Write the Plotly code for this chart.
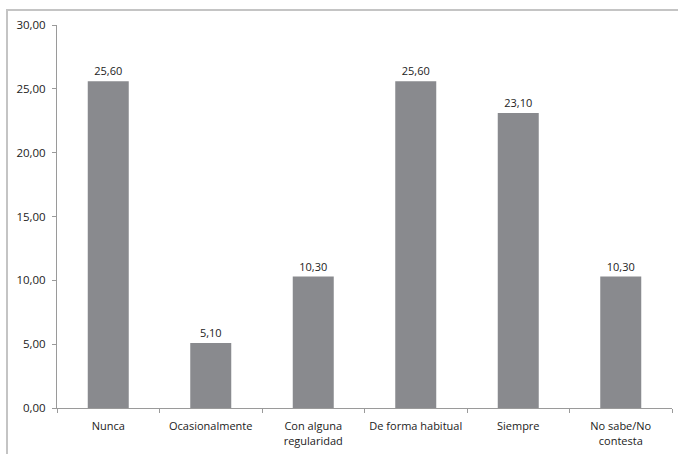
import plotly.graph_objects as go

categories = ["Nunca", "Ocasionalmente", "Con alguna<br>regularidad",
              "De forma habitual", "Siempre", "No sabe/No<br>contesta"]
values = [25.60, 5.10, 10.30, 25.60, 23.10, 10.30]
y_ticks = [0, 5, 10, 15, 20, 25, 30]

W, H = 678, 454
ml, mr, mt, mb = 57, 6, 25, 44
pw, ph = W - ml - mr, H - mt - mb

fig = go.Figure(go.Bar(
    x=categories,
    y=values,
    width=0.4,
    marker=dict(color="#898a8e", line=dict(width=0)),
    texttemplate="%{y:.2f}",
    textposition="outside",
    textfont=dict(size=11, color="#222222"),
    cliponaxis=False,
    hoverinfo="skip",
))

# frame around the chart area (only top and left edges fall inside the page)
frame = dict(
    type="rect", xref="paper", yref="paper",
    x0=(7 - ml) / pw, x1=(W + 10 - ml) / pw,
    y0=(H - mb - (H + 10)) / ph, y1=(H - mb - 10) / ph,
    line=dict(color="#c4c4c4", width=2),
    fillcolor="rgba(0,0,0,0)", layer="below",
)

fig.update_layout(
    width=W, height=H,
    margin=dict(l=ml, r=mr, t=mt, b=mb),
    paper_bgcolor="white",
    plot_bgcolor="white",
    separators=",.",
    font=dict(family="Open Sans, Liberation Sans, sans-serif", size=11, color="#222222"),
    showlegend=False,
    xaxis=dict(
        showline=True, linecolor="#9a9a9a", linewidth=1,
        showgrid=False, ticks="outside", ticklen=4, tickcolor="#9a9a9a",
        tickson="boundaries", tickfont=dict(size=11), ticklabelstandoff=8,
    ),
    yaxis=dict(
        range=[0, 30], tickvals=y_ticks, tickformat=".2f",
        showline=True, linecolor="#9a9a9a", linewidth=1,
        showgrid=False, zeroline=False, ticks="outside", ticklen=4,
        tickcolor="#9a9a9a", tickfont=dict(size=11.5), ticklabelstandoff=4,
    ),
    shapes=[frame],
)

fig.write_html("out.html")
